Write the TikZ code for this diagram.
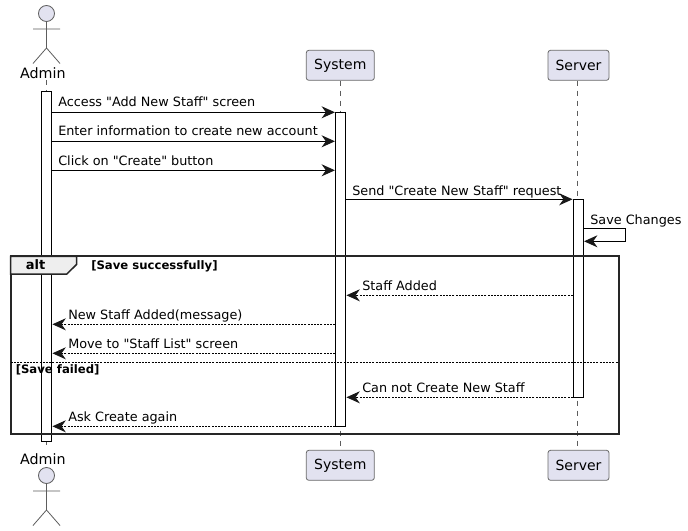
\documentclass[tikz,border=0pt]{standalone}
\usepackage{fontspec}
\newfontfamily\djv{DejaVu Sans}
\usetikzlibrary{arrows.meta,calc}
\definecolor{pfill}{HTML}{E2E2F0}
\definecolor{pline}{HTML}{181818}
\definecolor{tabfill}{HTML}{EEEEEE}
\tikzset{
  x=0.75pt,y=-0.75pt,
  box/.style={draw=pline!65,fill=pfill,line width=0.6pt,rounded corners=1.9pt,minimum width=#1*0.75pt,minimum height=22.5pt,inner sep=0pt,font=\djv\fontsize{10.5pt}{12pt}\selectfont},
  lifeline/.style={draw=pline!70,line width=0.4pt,dash pattern=on 3.75pt off 3.75pt},
  bar/.style={draw=black,fill=white,line width=0.75pt,minimum width=7.5pt,inner sep=0pt,rectangle},
  msg/.style={draw=black,line width=0.75pt,shorten >=0.2pt,-{Stealth[length=10pt,width=9pt,inset=3.2pt,color=pline]}},
  ret/.style={msg,dash pattern=on 1.5pt off 0.9pt,line width=0.6pt},
  lbl/.style={anchor=base west,inner sep=0pt,font=\djv\fontsize{9.6pt}{12pt}\selectfont,text=black},
  actorlbl/.style={inner sep=0pt,font=\djv\fontsize{10.7pt}{12pt}\selectfont},
  grp/.style={anchor=base west,inner sep=0pt,font=\djv\fontsize{8.75pt}{10pt}\selectfont\bfseries,text=black},
  stick/.style={draw=pline!70,line width=0.6pt},
  head/.style={draw=pline!70,fill=pfill,line width=0.6pt,circle,minimum size=12pt,inner sep=0pt},
}
\begin{document}
\begin{tikzpicture}
\useasboundingbox (0,0) rectangle (688,531);
\fill[white] (0,0) rectangle (688,531);
% participants
\node[box=68] (systop) at (340.3,65.3) {System};
\node[box=68] (sysbot) at (340.3,465.3) {System};
\node[box=61] (srvtop) at (578.5,65.3) {Server};
\node[box=61] (srvbot) at (578.5,465.3) {Server};
\node[actorlbl] (admtop) at (42.9,73) {Admin};
\node[actorlbl] (admbot) at (42.9,459) {Admin};
% lifelines
\coordinate (sy) at (340.3,0);
\coordinate (se) at (577.3,0);
\coordinate (ltop) at (46.5,80);
\coordinate (lbot) at (46.5,450);
\draw[lifeline] (ltop) -- (lbot);
\draw[lifeline] (sy |- systop.south) -- (sy |- sysbot.north);
\draw[lifeline] (se |- srvtop.south) -- (se |- srvbot.north);
% actors
\node[head] (hd1) at (46.5,13.5) {};
\coordinate (hip1) at (46.5,48);
\coordinate (al1) at (33,29); \coordinate (ar1) at (60,29);
\coordinate (ll1) at (33,63.5); \coordinate (lr1) at (60,63.5);
\draw[stick] (hd1) -- (hip1) (al1) -- (ar1) (ll1) -- (hip1) -- (lr1);
\node[head] (hd2) at (46.5,475.5) {};
\coordinate (hip2) at (46.5,510);
\coordinate (al2) at (33,491); \coordinate (ar2) at (60,491);
\coordinate (ll2) at (33,525.5); \coordinate (lr2) at (60,525.5);
\draw[stick] (hd2) -- (hip2) (al2) -- (ar2) (ll2) -- (hip2) -- (lr2);
% activations
\node[bar,minimum height=262.7pt] (admbar) at (46.7,266.2) {};
\node[bar,minimum height=235.5pt] (sysbar) at (340.7,269.3) {};
\node[bar,minimum height=148.5pt] (srvbar) at (578.3,298.3) {};
% frame
\coordinate (fa) at (10.7,256.3); \coordinate (fb) at (618.5,434);
\draw[draw=black!85,line width=1.5pt] (fa) rectangle (fb);
\coordinate (t1) at (76.7,256.3); \coordinate (t2) at (76.7,264.3); \coordinate (t3) at (66.7,274.2); \coordinate (t4) at (10.7,274.2);
\draw[draw=black!85,line width=1.1pt,fill=tabfill] (fa) -- (t1) -- (t2) -- (t3) -- (t4) -- cycle;
\coordinate (d1) at (10.7,362); \coordinate (d2) at (618.5,362);
\draw[draw=black,line width=0.6pt,dash pattern=on 1.5pt off 0.9pt] (d1) -- (d2);
\node[anchor=base,inner sep=0pt,font=\djv\fontsize{9.75pt}{12pt}\selectfont\bfseries] (alt) at (35.5,269.5) {alt};
\node[grp] (g1) at (91,269) {[Save successfully]};
\node[grp] (g2) at (15.5,373) {[Save failed]};
% message rows
\foreach \n/\y in {m1/112.3,m2/141.3,m3/170.3,m4/199.3,m5/295.3,m6/324.3,m7/353.3,m8/397.3,m9/426.3,s1/228.3,s2/241.3}{\coordinate (\n) at (0,\y);}
\coordinate (sx) at (625.7,0);
\draw[msg] (admbar.east |- m1) -- (sysbar.west |- m1);
\draw[msg] (admbar.east |- m2) -- (sysbar.west |- m2);
\draw[msg] (admbar.east |- m3) -- (sysbar.west |- m3);
\draw[msg] (sysbar.east |- m4) -- (srvbar.west |- m4);
\draw[msg] (srvbar.east |- s1) -- (sx |- s1) -- (sx |- s2) -- (srvbar.east |- s2);
\draw[ret] (srvbar.west |- m5) -- (sysbar.east |- m5);
\draw[ret] (sysbar.west |- m6) -- (admbar.east |- m6);
\draw[ret] (sysbar.west |- m7) -- (admbar.east |- m7);
\draw[ret] (srvbar.west |- m8) -- (sysbar.east |- m8);
\draw[ret] (sysbar.west |- m9) -- (admbar.east |- m9);
\node[lbl] (l1) at (58,107) {Access "Add New Staff" screen};
\node[lbl] (l2) at (58,136) {Enter information to create new account};
\node[lbl] (l3) at (58,166) {Click on "Create" button};
\node[lbl] (l4) at (352,195) {Send "Create New Staff" request};
\node[lbl] (l5) at (590,224) {Save Changes};
\node[lbl] (l6) at (362,290) {Staff Added};
\node[lbl] (l7) at (68,319) {New Staff Added(message)};
\node[lbl] (l8) at (68,348) {Move to "Staff List" screen};
\node[lbl] (l9) at (362,392) {Can not Create New Staff};
\node[lbl] (l10) at (68,421) {Ask Create again};
\end{tikzpicture}
\end{document}
